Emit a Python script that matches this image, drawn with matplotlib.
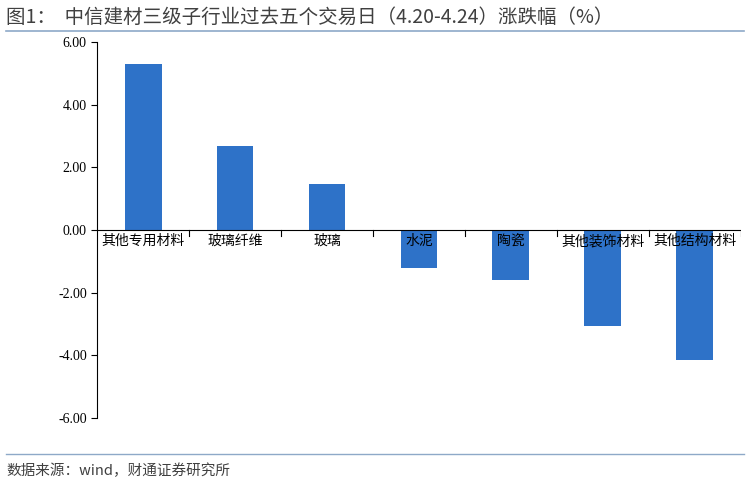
import matplotlib.pyplot as plt

plt.rcParams['font.family'] = ['Noto Sans CJK SC', 'DejaVu Sans']

categories = ['其他专用材料', '玻璃纤维', '玻璃', '水泥', '陶瓷', '其他装饰材料', '其他结构材料']
values = [5.30, 2.68, 1.47, -1.20, -1.60, -3.05, -4.15]
yticks = [-6, -4, -2, 0, 2, 4, 6]

fig = plt.figure(figsize=(7.48, 4.84), dpi=100)
ax = fig.add_axes([0.130, 0.136, 0.860, 0.777])

x = range(len(categories))
ax.bar(x, values, width=0.4, color='#2E72C8')
ax.set_xlim(-0.5, len(categories) - 0.5)
ax.set_ylim(-6, 6)
ax.set_yticks(yticks)
ax.set_yticklabels([f'{v:.2f}' for v in yticks], family='Liberation Serif', fontsize=10)
ax.tick_params(axis='y', direction='out', length=4, width=0.8)
ax.set_xticks([])
for s in ['top', 'right', 'bottom']:
    ax.spines[s].set_visible(False)
ax.spines['left'].set_color('black')
ax.axhline(0, color='black', lw=0.8)
for i in x:
    ax.plot([i + 0.5, i + 0.5], [0, -0.18], color='black', lw=0.8)
for i, c in enumerate(categories):
    ax.text(i, -0.35, c, ha='center', va='center', fontsize=10)

fig.text(0.008, 0.965, '图1：  中信建材三级子行业过去五个交易日（4.20-4.24）涨跌幅（%）',
         fontsize=14, color='#404040', va='center')
fig.add_artist(plt.Line2D([0.008, 0.995], [0.935, 0.935], color='#8EA9C8', lw=1.2))
fig.add_artist(plt.Line2D([0.008, 0.995], [0.062, 0.062], color='#8EA9C8', lw=1.0))
fig.text(0.008, 0.028, '数据来源：wind，财通证券研究所', fontsize=10.5, color='#404040', va='center')

fig.savefig('out.png', dpi=100)
